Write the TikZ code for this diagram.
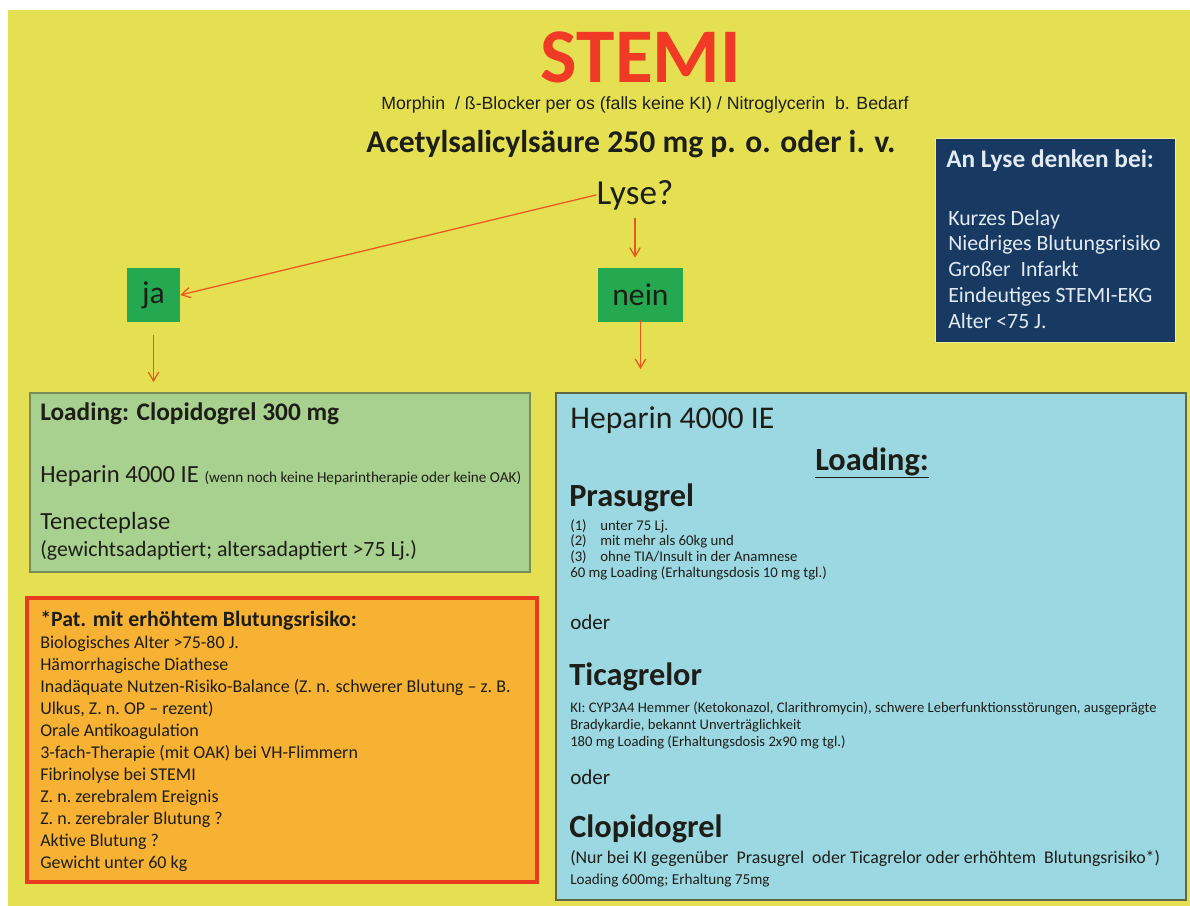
\documentclass[tikz,border=0pt]{standalone}
\usepackage{fontspec}
\setmainfont{Carlito}
\newfontfamily\arialfont{Liberation Sans}
\usetikzlibrary{arrows.meta}
\definecolor{bgyellow}{RGB}{229,224,82}
\definecolor{stemired}{RGB}{240,58,38}
\definecolor{arrowred}{RGB}{232,88,30}
\definecolor{yesgreen}{RGB}{36,168,80}
\definecolor{lysenavy}{RGB}{24,58,98}
\definecolor{lysetext}{RGB}{226,234,242}
\definecolor{jagreen}{RGB}{168,208,142}
\definecolor{jaedge}{RGB}{120,140,90}
\definecolor{riskorange}{RGB}{247,178,52}
\definecolor{riskedge}{RGB}{232,58,30}
\definecolor{neinblue}{RGB}{156,216,226}
\definecolor{neinedge}{RGB}{95,105,70}
\definecolor{darktext}{RGB}{30,30,25}
\newcommand\fsz[2]{\fontsize{#1}{#2}\selectfont}
\begin{document}
\begin{tikzpicture}[x=0.025cm,y=-0.025cm,
 txt/.style={anchor=base west,inner sep=0pt,text=darktext,align=left},
 answer/.style={fill=yesgreen,inner sep=0pt,minimum height=1.35cm,text=darktext,font=\fsz{22.5}{26}},
 panel/.style={inner sep=0pt},
 arr/.style={-{Straight Barb[length=2.2mm,width=2.6mm]},draw=arrowred,line width=0.9pt}]
\useasboundingbox (0,0) rectangle (1190,906);
\fill[white] (0,0) rectangle (1190,906);
\fill[bgyellow] (8,10) rectangle (1190,906);
% header
\node[anchor=base,inner sep=0pt,text depth=0pt,text=stemired,font=\bfseries\fsz{55}{60}] (title) at (641,83) {STEMI};
\node[anchor=base,inner sep=0pt,text height=6.5pt,text=darktext,font=\arialfont\fsz{12.6}{14}] (morphin) at (645,110) {Morphin\ \ / ß-Blocker per os (falls keine KI) / Nitroglycerin\ \ b. Bedarf};
\node[anchor=base,inner sep=0pt,text=darktext,font=\bfseries\fsz{22.5}{26}] (ass) at (631,153) {Acetylsalicylsäure 250 mg p. o. oder i. v.};
\node[anchor=base,inner sep=0pt,text=darktext,font=\fsz{25}{29}] (lyse) at (635,204) {Lyse?};
\node[answer,minimum width=1.325cm] (ja) at (153.5,295) {ja};
\node[answer,minimum width=2.125cm] (nein) at (640.5,295) {nein};
% An Lyse denken bei
\node[panel,fill=lysenavy,draw=bgyellow!60!white,line width=0.6pt,minimum width=6cm,minimum height=5.1cm] (lysebox) at (1055,240) {};
\node[txt,text=lysetext,font=\bfseries\fsz{18}{22}] (lysehead) at (946,167) {An Lyse denken bei:};
\node[txt,text=lysetext,font=\fsz{15.5}{18.3}] (lyselist) at (948,328) {Kurzes Delay\\Niedriges Blutungsrisiko\\Großer\ \ Infarkt\\Eindeutiges STEMI-EKG\\Alter <75 J.};
% ja
\node[panel,fill=jagreen,draw=jaedge,line width=1.2pt,minimum width=12.5cm,minimum height=4.475cm] (jabox) at (280,482.5) {};
\node[txt,font=\bfseries\fsz{18}{21}] (jaload) at (40,420) {Loading: Clopidogrel 300 mg};
\node[txt,font=\fsz{17.5}{21}] (jahep) at (40,482) {Heparin 4000 IE {\fsz{10.8}{12}(wenn noch keine Heparintherapie oder keine OAK)}};
\node[txt,font=\fsz{17.5}{21}] (jatnk) at (40,529) {Tenecteplase};
\node[txt,font=\fsz{15.5}{18}] (jadose) at (40,556) {(gewichtsadaptiert; altersadaptiert >75 Lj.)};
% Blutungsrisiko
\node[panel,fill=riskorange,draw=riskedge,line width=2.8pt,minimum width=12.75cm,minimum height=7.1cm] (riskbox) at (282,740) {};
\node[txt,font=\bfseries\fsz{15.5}{18}] (riskhead) at (40,626) {*Pat. mit erhöhtem Blutungsrisiko:};
\node[txt,font=\fsz{12.8}{15.58}] (risklist) at (40,868) {Biologisches Alter >75-80 J.\\Hämorrhagische Diathese\\Inadäquate Nutzen-Risiko-Balance (Z. n. schwerer Blutung -- z.\ B.\\Ulkus, Z. n.\ OP -- rezent)\\Orale Antikoagulation\\3-fach-Therapie (mit OAK) bei VH-Flimmern\\Fibrinolyse bei STEMI\\Z. n.\ zerebralem Ereignis\\Z. n.\ zerebraler Blutung ?\\Aktive Blutung ?\\Gewicht unter 60 kg};
% nein
\node[panel,fill=neinblue,draw=neinedge,line width=1.2pt,minimum width=15.75cm,minimum height=12.675cm] (neinbox) at (871,646.5) {};
\node[txt,font=\fsz{22.5}{26}] (neinhep) at (570,428) {Heparin 4000 IE};
\node[anchor=base,inner sep=0pt,text=darktext,font=\bfseries\fsz{23}{26}] (neinload) at (872,470) {\underline{Loading:}};
\node[txt,font=\bfseries\fsz{23}{26}] (prasu) at (569,506) {Prasugrel};
\node[txt,font=\fsz{10.5}{11.03}] (prasulist) at (570,577) {\makebox[0.75cm][l]{(1)}unter 75 Lj.\\\makebox[0.75cm][l]{(2)}mit mehr als 60kg und\\\makebox[0.75cm][l]{(3)}ohne TIA/Insult in der Anamnese\\60 mg Loading (Erhaltungsdosis 10 mg tgl.)};
\node[txt,font=\fsz{15}{18}] (oder1) at (570,629) {oder};
\node[txt,font=\bfseries\fsz{23}{26}] (tica) at (569,685) {Ticagrelor};
\node[txt,font=\fsz{10.4}{11.8}] (ticalist) at (570,746) {KI: CYP3A4 Hemmer (Ketokonazol, Clarithromycin), schwere Leberfunktionsstörungen, ausgeprägte\\Bradykardie, bekannt Unverträglichkeit\\180 mg Loading (Erhaltungsdosis 2x90 mg tgl.)};
\node[txt,font=\fsz{15}{18}] (oder2) at (570,784) {oder};
\node[txt,font=\bfseries\fsz{23}{26}] (clopi) at (569,837) {Clopidogrel};
\node[txt,font=\fsz{12.7}{14}] (clopiki) at (570,863) {(Nur bei KI gegenüber\ \ Prasugrel\ \ oder Ticagrelor oder erhöhtem\ \ Blutungsrisiko*)};
\node[txt,font=\fsz{10.8}{12}] (clopidose) at (570,884) {Loading 600mg; Erhaltung 75mg};
\draw[arr] (lyse.west) -- (ja.east);
\draw[arr,shorten <=0.2cm,shorten >=0.25cm] (lyse.south) -- (lyse.south |- nein.north);
\draw[arr,shorten <=0.32cm,shorten >=0.25cm] (ja.south) -- (ja.south |- jabox.north);
\draw[arr,shorten <=-0.05cm,shorten >=0.575cm] (nein.south) -- (nein.south |- neinbox.north);
\end{tikzpicture}
\end{document}
